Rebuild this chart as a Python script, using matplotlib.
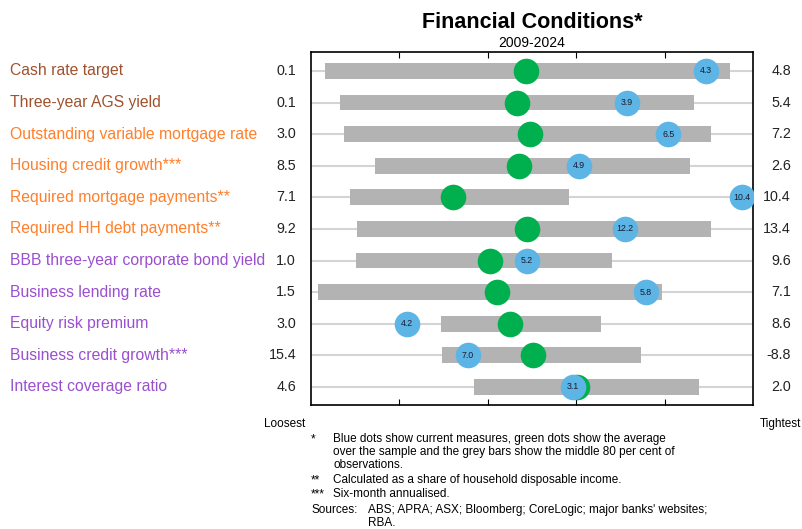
import matplotlib
matplotlib.use("Agg")
import matplotlib.pyplot as plt

plt.rcParams['font.family'] = ['Liberation Sans', 'DejaVu Sans']

# chart data (positions on a 0-100 loosest..tightest scale)
labels = ["Cash rate target", "Three-year AGS yield", "Outstanding variable mortgage rate",
          "Housing credit growth***", "Required mortgage payments**", "Required HH debt payments**",
          "BBB three-year corporate bond yield", "Business lending rate", "Equity risk premium",
          "Business credit growth***", "Interest coverage ratio"]
groups = ["brown", "brown", "orange", "orange", "orange", "orange",
          "purple", "purple", "purple", "purple", "purple"]
loosest = ["0.1", "0.1", "3.0", "8.5", "7.1", "9.2", "1.0", "1.5", "3.0", "15.4", "4.6"]
tightest = ["4.8", "5.4", "7.2", "2.6", "10.4", "13.4", "9.6", "7.1", "8.6", "-8.8", "2.0"]
p10 = [3.2, 6.6, 7.5, 14.5, 8.8, 10.4, 10.2, 1.6, 29.4, 29.6, 36.9]
p90 = [94.8, 86.7, 90.5, 85.7, 58.4, 90.5, 68.1, 79.4, 65.6, 74.7, 87.8]
average = [48.6, 46.6, 49.5, 47.1, 32.1, 48.9, 40.5, 42.1, 45.0, 50.2, 60.2]
current = [89.4, 71.5, 80.8, 60.6, 97.5, 71.0, 48.9, 75.8, 21.7, 35.5, 59.3]
current_labels = ["4.3", "3.9", "6.5", "4.9", "10.4", "12.2", "5.2", "5.8", "4.2", "7.0", "3.1"]

colours = {"brown": "#A0522D", "orange": "#FF7F2A", "purple": "#9A4FCF"}

fig = plt.figure(figsize=(8.02, 5.29), dpi=100)
ax = fig.add_axes([311 / 802, 1 - 405 / 529, 442 / 802, 353 / 529])

n = len(labels)
ys = list(range(n))
for y in ys:
    ax.axhline(y, color="#d4d4d4", lw=1.5, zorder=1)
ax.barh(ys, [b - a for a, b in zip(p10, p90)], left=p10, height=0.5,
        color="#b3b3b3", zorder=2)
ax.scatter(average, ys, s=340, color="#00B04F", zorder=3, linewidths=0)
ax.scatter(current, ys, s=340, color="#5DB5E6", zorder=4, linewidths=0)
for x, y, t in zip(current, ys, current_labels):
    ax.text(x, y, t, ha="center", va="center", fontsize=6.3, color="#1a1a2e", zorder=5)

ax.set_xlim(0, 100)
ax.set_ylim(n - 0.43, -0.6)
ax.set_xticks([20, 40, 60, 80])
ax.set_xticklabels([])
ax.set_yticks([])
ax.tick_params(axis="x", direction="in", top=True, bottom=True, length=4, width=0.8)
for s in ax.spines.values():
    s.set_linewidth(1.2)

for y, lab, g, lo, hi in zip(ys, labels, groups, loosest, tightest):
    ax.annotate(lab, xy=(0, y), xycoords=("figure fraction", "data"),
                xytext=(10, 0), textcoords="offset pixels",
                ha="left", va="center", fontsize=11.3, color=colours[g])
    ax.annotate(lo, xy=(296 / 802, y), xycoords=("figure fraction", "data"),
                ha="right", va="center", fontsize=10.3, color="#222222")
    ax.annotate(hi, xy=(791 / 802, y), xycoords=("figure fraction", "data"),
                ha="right", va="center", fontsize=10.3, color="#222222")

fig.text(532 / 802, 1 - 23 / 529, "Financial Conditions*", ha="center", va="center",
         fontsize=15.5, fontweight="bold")
fig.text(532 / 802, 1 - 43 / 529, "2009-2024", ha="center", va="center", fontsize=10)
fig.text(285 / 802, 1 - 424 / 529, "Loosest", ha="center", va="center", fontsize=8.5)
fig.text(780 / 802, 1 - 424 / 529, "Tightest", ha="center", va="center", fontsize=8.5)

notes = [
    (439, "*", "Blue dots show current measures, green dots show the average"),
    (452, "", "over the sample and the grey bars show the middle 80 per cent of"),
    (465, "", "observations."),
    (480, "**", "Calculated as a share of household disposable income."),
    (494, "***", "Six-month annualised."),
]
for ypix, mark, txt in notes:
    fig.text(311 / 802, 1 - ypix / 529, mark, ha="left", va="center", fontsize=8.5)
    fig.text(333 / 802, 1 - ypix / 529, txt, ha="left", va="center", fontsize=8.5)
fig.text(311 / 802, 1 - 510 / 529, "Sources:", ha="left", va="center", fontsize=8.5)
fig.text(368 / 802, 1 - 510 / 529, "ABS; APRA; ASX; Bloomberg; CoreLogic; major banks' websites;",
         ha="left", va="center", fontsize=8.5)
fig.text(368 / 802, 1 - 523 / 529, "RBA.", ha="left", va="center", fontsize=8.5)

fig.savefig("out.png", dpi=100)
